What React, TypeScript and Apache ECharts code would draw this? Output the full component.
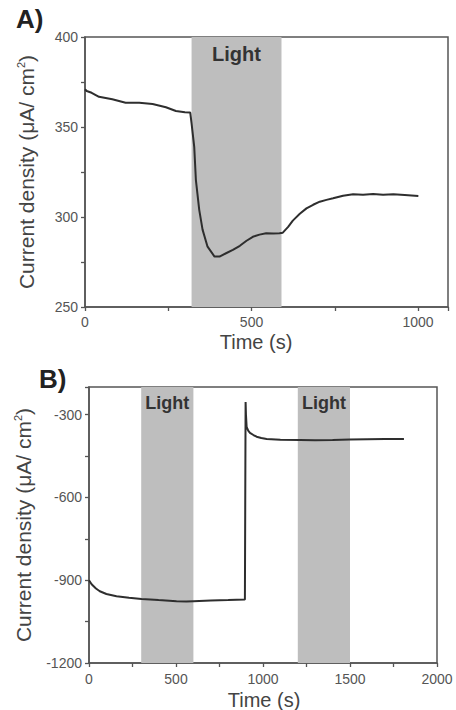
import React, { useEffect, useRef } from "react";
import * as echarts from "echarts";

// ---- Panel A data ----
const timeA = [0, 5, 20, 42, 82, 122, 163, 203, 243, 273, 300, 316, 320, 328, 333, 343, 353, 368, 389, 404, 425, 444, 465, 485, 504, 524, 544, 565, 584, 594, 610, 624, 645, 665, 685, 705, 725, 745, 775, 805, 835, 865, 895, 926, 960, 1001];
const currentA = [371, 370, 369, 366.8, 365.4, 363.5, 363.5, 362.8, 361, 358.9, 358.2, 358, 352, 339, 320.5, 304, 293, 283.5, 278, 278, 280, 281.7, 284, 286.8, 289, 290.2, 291, 290.8, 291, 291.3, 294.5, 298, 301.8, 304.8, 306.8, 308.5, 309.5, 310.4, 311.8, 312.6, 312.4, 312.8, 312.3, 312.6, 312.2, 311.7];
const lightA = [[320, 590]];
const xTicksA = [0, 500, 1000];
const yTicksA = [250, 300, 350, 400];

// ---- Panel B data ----
const timeB = [0, 15, 40, 62, 100, 158, 230, 302, 400, 503, 560, 600, 700, 800, 896, 900, 902, 906, 915, 925, 945, 963, 990, 1021, 1100, 1213, 1300, 1400, 1500, 1600, 1700, 1810];
const currentB = [-900, -915, -930, -940, -950, -958, -964, -968, -972, -976, -977, -976, -974, -972, -970, -254, -300, -345, -358, -366, -374, -380, -385, -388, -391, -392, -393, -392, -390, -389, -388, -388];
const lightB = [[300, 600], [1200, 1500]];
const xTicksB = [0, 500, 1000, 1500, 2000];
const yTicksB = [-1200, -900, -600, -300];

const FONT = "'Liberation Sans', Arial, sans-serif";
const LINE = "#2e2e2e";
const AXIS = "#555555";
const BAND = "#bebebe";

export default function App() {
  const ref = useRef<HTMLDivElement>(null);
  useEffect(() => {
    document.body.style.margin = "0";
    const chart = echarts.init(ref.current!, null, { renderer: "svg" });

    const pairs = (t: number[], v: number[]) => t.map((x, i) => [x, v[i]]);
    const bands = (b: number[][]) => b.map(([a, c]) => [{ xAxis: a }, { xAxis: c }]);
    const onlyMajor = (majors: number[]) => (v: number) => (majors.includes(v) ? String(v) : "");

    const axisBase = (grid: number, min: number, max: number, interval: number, majors: number[], margin: number) => ({
      type: "value",
      gridIndex: grid,
      min,
      max,
      interval,
      splitLine: { show: false },
      axisLine: { show: true, onZero: false, lineStyle: { color: AXIS, width: 1.5 } },
      axisTick: { show: true, length: 4, inside: false, lineStyle: { color: AXIS, width: 1.3 } },
      axisLabel: { formatter: onlyMajor(majors), margin, fontSize: 14, color: "#555", fontFamily: FONT },
    });

    const yName = "Current density (μA/ cm{sup|2})";
    const nameStyle = (x: number, y: number) => ({
      type: "text",
      x,
      y,
      rotation: Math.PI / 2,
      style: {
        text: yName,
        fontSize: 21,
        fontFamily: FONT,
        fill: "#444",
        align: "center",
        verticalAlign: "middle",
        rich: { sup: { fontSize: 11, verticalAlign: "top", padding: [0, 0, 10, 0], fill: "#444", fontFamily: FONT } },
      },
    });

    chart.setOption({
      animation: false,
      grid: [
        { left: 85, top: 37, width: 363, height: 270, show: true, borderColor: AXIS, borderWidth: 1.5 },
        { left: 89, top: 387, width: 348, height: 276, show: true, borderColor: AXIS, borderWidth: 1.5 },
      ],
      xAxis: [
        axisBase(0, 0, 1090, 250, xTicksA, 8),
        axisBase(1, 0, 2000, 250, xTicksB, 9),
      ],
      yAxis: [
        axisBase(0, 250, 400, 25, yTicksA, 7),
        axisBase(1, -1200, -200, 150, yTicksB, 7),
      ],
      series: [
        {
          type: "line",
          xAxisIndex: 0,
          yAxisIndex: 0,
          data: [],
          z: 1,
          markArea: {
            silent: true,
            itemStyle: { color: BAND },
            label: { show: true, position: "insideTop", distance: 7, formatter: "Light", fontSize: 20, fontWeight: "bold", color: "#333", fontFamily: FONT },
            data: bands(lightA),
          },
        },
        {
          type: "line",
          xAxisIndex: 0,
          yAxisIndex: 0,
          data: pairs(timeA, currentA),
          showSymbol: false,
          lineStyle: { color: LINE, width: 2 },
          z: 3,
        },
        {
          type: "line",
          xAxisIndex: 1,
          yAxisIndex: 1,
          data: [],
          z: 1,
          markArea: {
            silent: true,
            itemStyle: { color: BAND },
            label: { show: true, position: "insideTop", distance: 7, formatter: "Light", fontSize: 18, fontWeight: "bold", color: "#333", fontFamily: FONT },
            data: bands(lightB),
          },
        },
        {
          type: "line",
          xAxisIndex: 1,
          yAxisIndex: 1,
          data: pairs(timeB, currentB),
          showSymbol: false,
          lineStyle: { color: LINE, width: 2 },
          z: 3,
        },
      ],
      graphic: [
        { type: "text", x: 16, y: 6, style: { text: "A)", fontSize: 26, fontWeight: "bold", fontFamily: FONT, fill: "#222" } },
        { type: "text", x: 39, y: 366, style: { text: "B)", fontSize: 26, fontWeight: "bold", fontFamily: FONT, fill: "#222" } },
        nameStyle(26, 172),
        nameStyle(23, 525),
        { type: "text", x: 256, y: 342, style: { text: "Time (s)", fontSize: 20, fontFamily: FONT, fill: "#444", align: "center", verticalAlign: "middle" } },
        { type: "text", x: 264, y: 700, style: { text: "Time (s)", fontSize: 20, fontFamily: FONT, fill: "#444", align: "center", verticalAlign: "middle" } },
      ],
    });
    return () => chart.dispose();
  }, []);
  return <div ref={ref} style={{ position: "absolute", left: 0, top: 0, width: 456, height: 710 }} />;
}
